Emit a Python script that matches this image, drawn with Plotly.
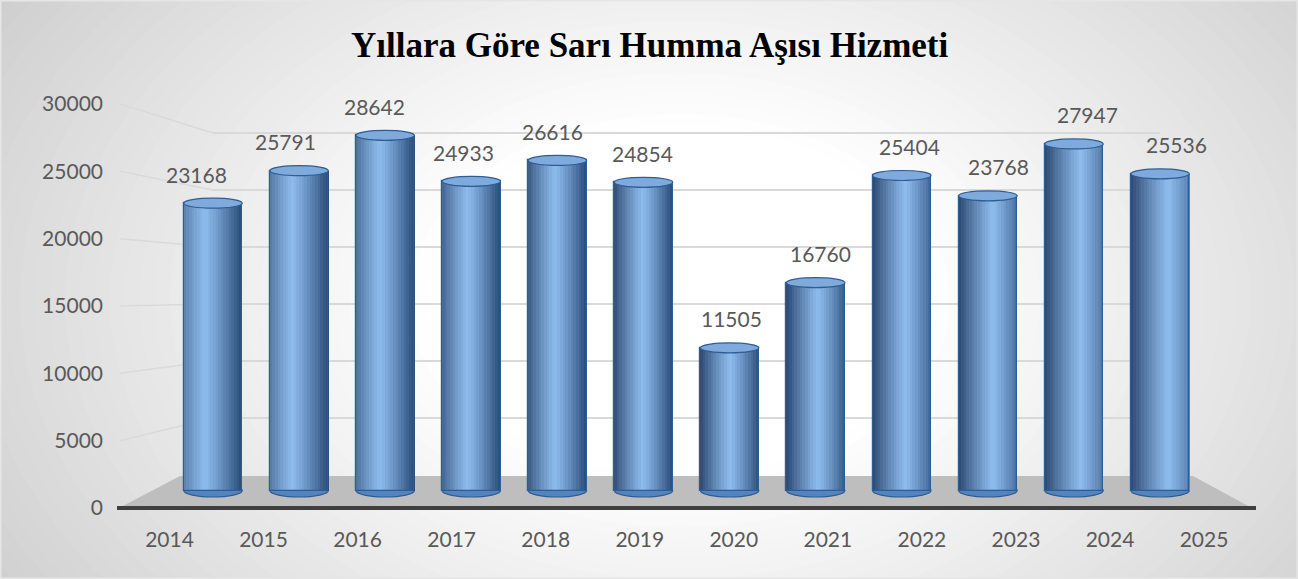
import plotly.graph_objects as go

# ---------------- data ----------------
years = ["2014", "2015", "2016", "2017", "2018", "2019",
         "2020", "2021", "2022", "2023", "2024", "2025"]
values = [23168, 25791, 28642, 24933, 26616, 24854,
          11505, 16760, 25404, 23768, 27947, 25536]
y_ticks = [0, 5000, 10000, 15000, 20000, 25000, 30000]
y_tick_text = ["0", "5000", "10000", "15000", "20000", "25000", "30000"]
title_text = "Yıllara Göre Sarı Humma Aşısı Hizmeti"

# ---------------- geometry (pixels) ----------------
W, H = 1298, 579
BAR_X0, BAR_DX = 213.0, 86.1          # bar centre of first category, spacing
BAR_BASE, BAR_K = 490.5, 0.01240      # pixel of value 0, pixels per unit
BAR_W = 0.68                           # bar width in category units
LAB_X0, LAB_DX = 169.5, 94.05         # x tick labels
TICK_BASE, TICK_K = 508.0, 404 / 30000  # y tick labels
GRID_BASE, GRID_K = 475.0, 57 / 5000  # back wall gridlines
GRID_X0, GRID_X1 = 213, 1160
XLAB_AXIS_Y = 525
LABEL_FONT = dict(family="Lato, 'Open Sans', sans-serif", size=21, color="#595959")


def x_range(p0, dp, span=W):
    r0 = -p0 / dp
    return [r0, r0 + span / dp]


def y_range(base, k, bottom=H, top=0):
    return [-(bottom - base) / k, (base - top) / k]


def px(X):
    return X / W


def py(Y):
    return 1 - Y / H


n = len(values)
idx = list(range(n))


def shade(i, t):
    h = 0.36 + 0.28 * i / (n - 1)
    f = abs(t - h) / max(h, 1 - h)
    f = f ** 1.15
    light = (141, 187, 236)
    dark = (40, 74, 120) if t > h else (44, 72, 112)
    c = [round(light[k] + (dark[k] - light[k]) * f) for k in range(3)]
    return "rgb(%d,%d,%d)" % tuple(c)


fig = go.Figure()

# gridline subplot (x, y) – needs a trace
fig.add_trace(go.Scatter(x=[0.5], y=[0], mode="markers", marker=dict(opacity=0),
                         hoverinfo="skip", showlegend=False, xaxis="x", yaxis="y"))

# cylinder bars as vertical strips
N = 22
sw = BAR_W / N
for j in range(N):
    t = (j + 0.5) / N
    fig.add_trace(go.Bar(
        x=idx, y=values, xaxis="x2", yaxis="y2",
        width=sw * 1.12, offset=-BAR_W / 2 + j * sw - sw * 0.06,
        marker=dict(color=[shade(i, t) for i in idx], line=dict(width=0)),
        hoverinfo="skip", showlegend=False))

# outline
fig.add_trace(go.Bar(
    x=idx, y=values, xaxis="x2", yaxis="y2", width=BAR_W,
    marker=dict(color="rgba(0,0,0,0)", line=dict(color="#2e5d93", width=1.2)),
    hoverinfo="skip", showlegend=False))

# label subplot (x3, y3)
fig.add_trace(go.Scatter(x=years, y=[0] * n, mode="markers", marker=dict(opacity=0),
                         hoverinfo="skip", showlegend=False, xaxis="x3", yaxis="y3"))

shapes = []
# background radial gradient
NB = 60
cx, cy = 680, 300
for j in range(NB):
    s = 1 - j / NB
    rx, ry = 900 * s, 620 * s
    g = 197 + (255 - 197) * min(1.0, (j / (NB * 0.72))) ** 0.9
    g = int(round(g))
    shapes.append(dict(type="circle", xref="paper", yref="paper", layer="below",
                       x0=px(cx - rx), x1=px(cx + rx), y0=py(cy + ry), y1=py(cy - ry),
                       fillcolor="rgb(%d,%d,%d)" % (g, g, g), line=dict(width=0)))

# floor
shapes.append(dict(type="path", xref="paper", yref="paper", layer="below",
                   path="M %f %f L %f %f L %f %f L %f %f Z" % (
                       px(119), py(508), px(180), py(476), px(1193), py(476), px(1252), py(508)),
                   fillcolor="#bebebe", line=dict(width=0)))
# side wall diagonals
for v in y_ticks[1:]:
    shapes.append(dict(type="line", xref="paper", yref="paper", layer="below",
                       x0=px(120), y0=py(TICK_BASE - v * TICK_K),
                       x1=px(GRID_X0), y1=py(GRID_BASE - v * GRID_K),
                       line=dict(color="#dadada", width=1.5)))
# axis line
shapes.append(dict(type="line", xref="paper", yref="paper", layer="above",
                   x0=px(117), x1=px(1256), y0=py(508), y1=py(508),
                   line=dict(color="#3f3f3f", width=4)))

# cylinder ends
e = 5 / BAR_K
for i, v in zip(idx, values):
    shapes.append(dict(type="circle", xref="x2", yref="y2", layer="below",
                       x0=i - BAR_W / 2, x1=i + BAR_W / 2, y0=-e * 1.3, y1=e * 1.3,
                       fillcolor="#5384bd", line=dict(color="#2e5d93", width=1.2)))
    shapes.append(dict(type="circle", xref="x2", yref="y2", layer="above",
                       x0=i - BAR_W / 2, x1=i + BAR_W / 2, y0=v - e, y1=v + e,
                       fillcolor="#7eaade", line=dict(color="#2e5d93", width=1.2)))

# border
shapes.append(dict(type="rect", xref="paper", yref="paper", layer="above",
                   x0=0, x1=1, y0=0, y1=1, line=dict(color="#e6e6e6", width=3)))

annotations = [dict(text="<b>%s</b>" % title_text, xref="paper", yref="paper",
                    x=0.5, y=py(45), xanchor="center", yanchor="middle", showarrow=False,
                    font=dict(family="'Liberation Serif', 'Times New Roman', serif",
                              size=35, color="#000000"))]
for i, v in zip(idx, values):
    annotations.append(dict(text=f"{v}", xref="x2", yref="y2", x=i, y=v,
                            yshift=29, xshift=(i - (n - 1) / 2) * 3,
                            xanchor="center", yanchor="middle", showarrow=False,
                            font=LABEL_FONT))

fig.update_layout(
    width=W, height=H, margin=dict(l=0, r=0, t=0, b=0),
    paper_bgcolor="#c4c4c4", plot_bgcolor="rgba(0,0,0,0)",
    barmode="overlay", bargap=0, showlegend=False,
    shapes=shapes, annotations=annotations,
    xaxis=dict(domain=[px(GRID_X0), px(GRID_X1)], anchor="y", range=[0, 1], visible=False),
    yaxis=dict(domain=[0, 1], anchor="x", range=y_range(GRID_BASE, GRID_K),
               tickvals=y_ticks[1:], showgrid=True, gridcolor="#d9d9d9", gridwidth=2,
               showticklabels=False, ticks="", zeroline=False, showline=False),
    xaxis2=dict(domain=[0, 1], anchor="y2", range=x_range(BAR_X0, BAR_DX), visible=False),
    yaxis2=dict(domain=[0, 1], anchor="x2", range=y_range(BAR_BASE, BAR_K), visible=False),
    xaxis3=dict(domain=[0, 1], anchor="y3", type="category",
                range=x_range(LAB_X0, LAB_DX), showgrid=False, zeroline=False,
                showline=False, ticks="", tickfont=LABEL_FONT),
    yaxis3=dict(domain=[py(XLAB_AXIS_Y), 1], anchor="free", position=px(103),
                range=y_range(TICK_BASE, TICK_K, bottom=XLAB_AXIS_Y),
                tickvals=y_ticks, ticktext=y_tick_text, showgrid=False, zeroline=False,
                showline=False, ticks="", tickfont=LABEL_FONT),
)

fig.write_html("out.html", config={"displayModeBar": False},
               post_script="document.body.style.margin='0px';")
